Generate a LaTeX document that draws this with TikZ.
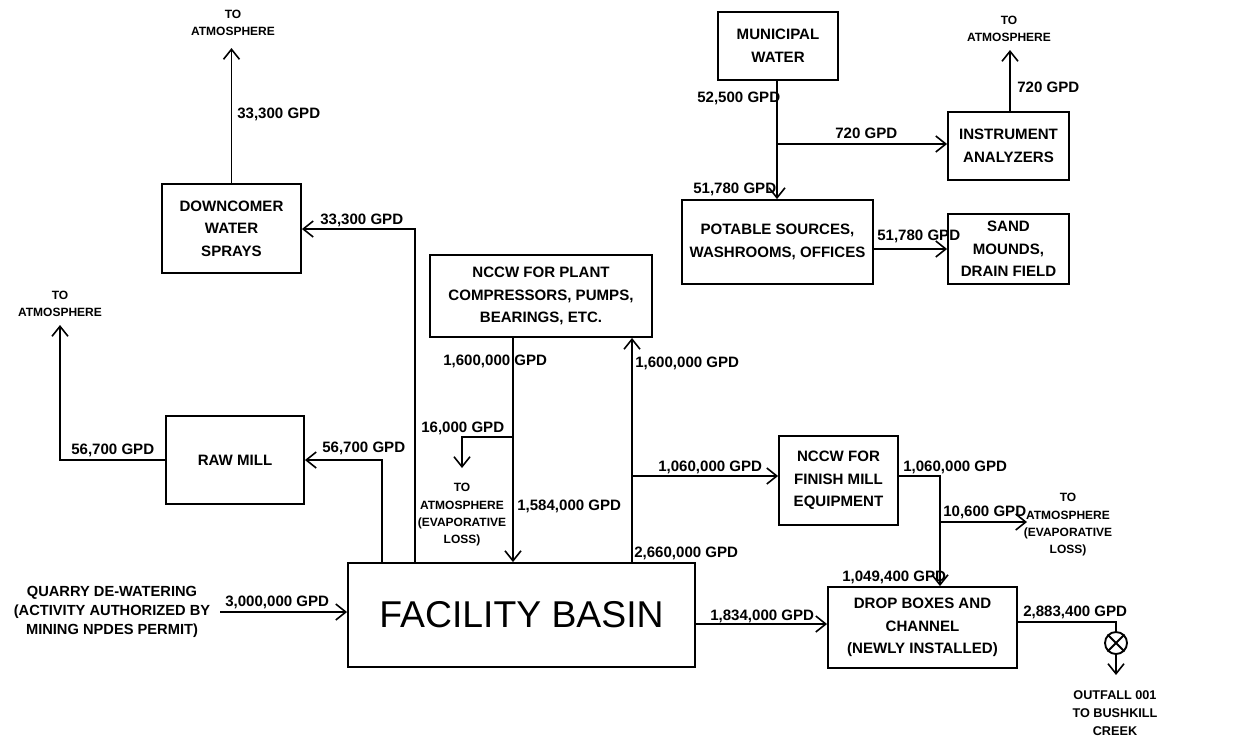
\documentclass[tikz,border=0pt]{standalone}
\usepackage{fontspec}
\setmainfont{Liberation Sans}
\usetikzlibrary{arrows.meta}
\begin{document}
\begin{tikzpicture}[x=0.75pt,y=-0.75pt,
 every node/.style={font=\bfseries\fontsize{11.3}{17}\selectfont},
 box/.style={draw,line width=1.4pt,align=center,inner sep=0pt},
 lbl/.style={anchor=west,inner sep=0pt,text height=8.1pt,text depth=0pt},
 sm/.style={font=\bfseries\fontsize{9}{13}\selectfont,align=center,inner sep=0pt},
 flow/.style={line width=1.4pt},
 arr/.style={flow,-{Straight Barb[length=7.5pt,width=12pt,line width=1.2pt]}}
]
\fill[white] (0,0) rectangle (1254,740);
\useasboundingbox (0,0) rectangle (1254,740);

% boxes
\node[box,minimum width=104.25pt,minimum height=66.75pt] (down) at (231.5,228.5) {DOWNCOMER\\WATER\\SPRAYS};
\node[box,minimum width=103.5pt,minimum height=66pt] (raw) at (235,460) {RAW MILL};
\node[box,minimum width=260.25pt,minimum height=78pt,font=\fontsize{28}{32}\selectfont] (basin) at (521.5,615) {FACILITY BASIN};
\node[box,minimum width=166.5pt,minimum height=61.5pt] (plant) at (541,296) {NCCW FOR PLANT\\COMPRESSORS, PUMPS,\\BEARINGS, ETC.};
\node[box,minimum width=89.25pt,minimum height=66.75pt] (finish) at (838.5,480.5) {NCCW FOR\\FINISH MILL\\EQUIPMENT};
\node[box,minimum width=141.75pt,minimum height=60.75pt] (drop) at (922.5,627.5) {DROP BOXES AND\\CHANNEL\\(NEWLY INSTALLED)};
\node[box,minimum width=90pt,minimum height=51pt] (muni) at (778,46) {MUNICIPAL\\WATER};
\node[box,minimum width=90.75pt,minimum height=51pt] (instr) at (1008.5,146) {INSTRUMENT\\ANALYZERS};
\node[box,minimum width=143.25pt,minimum height=63pt] (potable) at (777.5,242) {POTABLE SOURCES,\\WASHROOMS, OFFICES};
\node[box,minimum width=90.75pt,minimum height=52.5pt] (sand) at (1008.5,249) {SAND\\MOUNDS,\\DRAIN FIELD};
\node[draw,circle,line width=1.4pt,minimum size=16.5pt,inner sep=0pt] (valve) at (1116,643) {};

% free texts
\node[sm] (atm1) at (233,23) {TO\\ATMOSPHERE};
\node[sm] (atm2) at (60,304) {TO\\ATMOSPHERE};
\node[sm] (atm3) at (1009,29) {TO\\ATMOSPHERE};
\node[sm] (evap1) at (462,515) {TO\\ATMOSPHERE\\(EVAPORATIVE\\LOSS)};
\node[sm] (evap2) at (1068,525) {TO\\ATMOSPHERE\\(EVAPORATIVE\\LOSS)};
\node[align=center,inner sep=0pt,font=\bfseries\fontsize{11}{14}\selectfont] (quarry) at (112,612) {QUARRY DE-WATERING\\(ACTIVITY AUTHORIZED BY\\MINING NPDES PERMIT)};
\node[align=center,inner sep=0pt,font=\bfseries\fontsize{9.5}{13.5}\selectfont] (outfall) at (1115,713) {OUTFALL 001\\TO BUSHKILL\\CREEK};

% coordinates for bends and free ends
\coordinate (t1) at (232,48);
\coordinate (j1) at (415,229);
\coordinate (j2) at (382,460);
\coordinate (t2) at (60,325);
\coordinate (k2) at (60,460);
\coordinate (q) at (220,612);
\coordinate (b1) at (513,437);
\coordinate (b2) at (462,437);
\coordinate (e1) at (462,468);
\coordinate (c1) at (632,476);
\coordinate (d1) at (940,476);
\coordinate (d2) at (940,522);
\coordinate (e2) at (1027,522);
\coordinate (e) at (695,624);
\coordinate (f) at (1116,622);
\coordinate (o1) at (1116,675);
\coordinate (g) at (777,144);
\coordinate (h) at (1010,50);

% connectors
\draw[arr] (down.north) -- (down.north |- t1);
\draw[arr] (basin.north -| j1) -- (j1) -- (down.east |- j1);
\draw[arr] (basin.north -| j2) -- (j2) -- (raw.east |- j2);
\draw[arr] (raw.west |- k2) -- (k2) -- (t2);
\draw[arr] (q) -- (basin.west |- q);
\draw[arr] (plant.south -| b1) -- (basin.north -| b1);
\draw[arr] (b1) -- (b2) -- (e1);
\draw[arr] (basin.north -| c1) -- (plant.south -| c1);
\draw[arr] (c1) -- (finish.west |- c1);
\draw[arr] (finish.east |- d1) -- (d1) -- (drop.north -| d1);
\draw[arr] (d2) -- (e2);
\draw[arr] (basin.east |- e) -- (drop.west |- e);
\draw[flow] (drop.east |- f) -- (f) -- (valve.north);
\draw[flow] (valve.north west) -- (valve.south east) (valve.north east) -- (valve.south west);
\draw[arr] (valve.south) -- (o1);
\draw[arr] (muni.south -| g) -- (potable.north -| g);
\draw[arr] (g) -- (instr.west |- g);
\draw[arr] (instr.north -| h) -- (h);
\draw[arr] (potable.east |- sand.west) -- (sand.west);

% flow labels
\node[lbl] at (237,113) {33,300 GPD};
\node[lbl] at (320,219) {33,300 GPD};
\node[lbl] at (71,449) {56,700 GPD};
\node[lbl] at (322,447) {56,700 GPD};
\node[lbl] at (225,601) {3,000,000 GPD};
\node[lbl] at (443,360) {1,600,000 GPD};
\node[lbl] at (421,427) {16,000 GPD};
\node[lbl] at (517,505) {1,584,000 GPD};
\node[lbl] at (635,362) {1,600,000 GPD};
\node[lbl] at (634,552) {2,660,000 GPD};
\node[lbl] at (658,466) {1,060,000 GPD};
\node[lbl] at (903,466) {1,060,000 GPD};
\node[lbl] at (943,511) {10,600 GPD};
\node[lbl] at (842,576) {1,049,400 GPD};
\node[lbl] at (710,615) {1,834,000 GPD};
\node[lbl] at (1023,611) {2,883,400 GPD};
\node[lbl] at (697,97) {52,500 GPD};
\node[lbl] at (693,188) {51,780 GPD};
\node[lbl] at (835,133) {720 GPD};
\node[lbl] at (1017,87) {720 GPD};
\node[lbl] at (877,235) {51,780 GPD};
\end{tikzpicture}
\end{document}
